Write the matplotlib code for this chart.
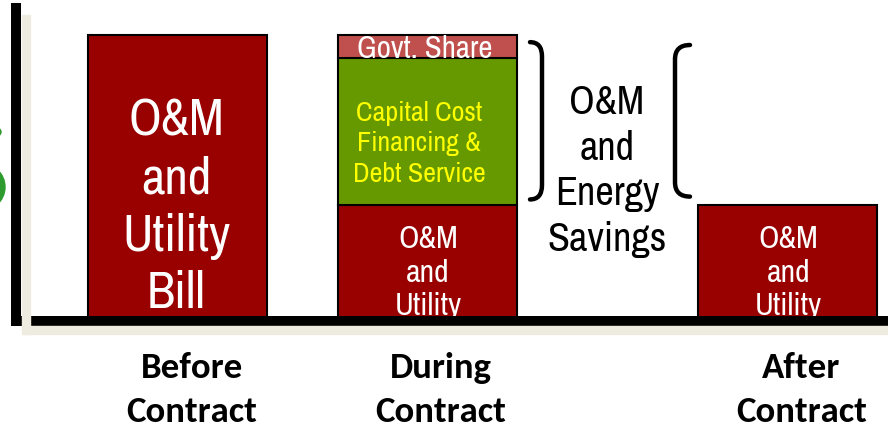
import matplotlib
matplotlib.use("Agg")
import matplotlib.pyplot as plt
from matplotlib.patches import Rectangle, Ellipse, PathPatch
from matplotlib.path import Path

# ---------------- data ----------------
categories = ["Before\nContract", "During\nContract", "After\nContract"]
om_utility = [100.0, 40.6, 40.6]          # O&M and utility portion
capital_cost = [0.0, 51.4, 0.0]           # capital cost financing & debt service
govt_share = [0.0, 8.0, 0.0]              # government share
bar_labels_om = ["O&M\nand\nUtility\nBill", "O&M\nand\nUtility", "O&M\nand\nUtility"]
capital_label = "Capital Cost\nFinancing &\nDebt Service"
govt_label = "Govt. Share"
savings_label = "O&M\nand\nEnergy\nSavings"

# ---------------- layout ----------------
W, H = 888, 428
x_pos = [161.5, 411, 771.5]     # bar centres (axis units ~ px from spine)
bar_w = 179
label_dx = 14                   # category labels slightly right of bars
narrow = ["Archivo Narrow", "DejaVu Sans"]
label_font = ["Carlito", "DejaVu Sans"]

fig = plt.figure(figsize=(W / 100, H / 100), dpi=100)
fig.patch.set_facecolor("white")

def fx(px):
    return px / W

def fy(py):
    return 1 - py / H

ax_l, ax_r, ax_b, ax_t = 16, 888, 321, 8
ax = fig.add_axes([fx(ax_l), fy(ax_b), fx(ax_r) - fx(ax_l), fy(ax_t) - fy(ax_b)])
ax.set_xlim(0, ax_r - ax_l)
ymax = 100 * (ax_b - ax_t) / (ax_b - 35)
ax.set_ylim(0, ymax)
ax.set_facecolor("none")

# shadows of axes (beige)
beige = "#EEEBE0"
fig.patches.append(Rectangle((fx(22), fy(334)), fx(30) - fx(22), fy(15) - fy(334),
                             transform=fig.transFigure, color=beige, zorder=0))
fig.patches.append(Rectangle((fx(23), fy(334)), 1 - fx(23), fy(326) - fy(334),
                             transform=fig.transFigure, color=beige, zorder=0))

# green artefact at the left edge
fig.patches.append(Ellipse((fx(-22), fy(187)), fx(54), fy(0) - fy(50),
                           transform=fig.transFigure, color="#2E9B2E", zorder=0))
fig.patches.append(Ellipse((fx(-6), fy(132)), fx(14), fy(0) - fy(10),
                           transform=fig.transFigure, color="#2E9B2E", zorder=0))

dark_red = "#990000"
green = "#669900"
govt_col = "#C0504D"

bottoms2 = [a + b for a, b in zip(om_utility, capital_cost)]
ax.bar(x_pos, om_utility, width=bar_w, color=dark_red, edgecolor="black", linewidth=1.5, zorder=2)
ax.bar(x_pos, capital_cost, bottom=om_utility, width=bar_w, color=green,
       edgecolor="black", linewidth=1.5, zorder=2)
ax.bar(x_pos, govt_share, bottom=bottoms2, width=bar_w, color=govt_col,
       edgecolor="black", linewidth=1.5, zorder=2)

for p in ax.patches:
    if p.get_height() == 0:
        p.set_visible(False)

# texts in bars
ax.text(x_pos[0] - 1, om_utility[0] / 2 - 10.3, bar_labels_om[0], ha="center", va="center",
        color="white", fontsize=37, family=narrow, linespacing=1.28, zorder=3)
for i in (1, 2):
    ax.text(x_pos[i] + 1, om_utility[i] - 7.0, bar_labels_om[i], ha="center", va="top",
            color="white", fontsize=23, family=narrow, linespacing=1.25, zorder=3, clip_on=True)
ax.text(x_pos[1] - 8, om_utility[1] + capital_cost[1] / 2 - 4.4, capital_label, ha="center",
        va="center", color="#FFFF00", fontsize=20.2, family=narrow, linespacing=1.27, zorder=3)
ax.text(x_pos[1] - 2, bottoms2[1] + govt_share[1] / 2 - 1, govt_label, ha="center",
        va="center", color="white", fontsize=22.3, family=narrow, zorder=3)

# savings text
ax.text(591, 52.5, savings_label, ha="center", va="center", color="black", fontsize=29,
        family=narrow, linespacing=1.286, zorder=3)

# braces
def brace(x_edge, x_tip, y_top, y_bot, r):
    verts = [(x_edge, y_top), (x_tip, y_top), (x_tip, y_top - r),
             (x_tip, y_bot + r), (x_tip, y_bot), (x_edge, y_bot)]
    codes = [Path.MOVETO, Path.CURVE3, Path.CURVE3, Path.LINETO, Path.CURVE3, Path.CURVE3]
    return PathPatch(Path(verts, codes), fill=False, lw=3.2, edgecolor="black",
                     capstyle="round", zorder=3)

ax.add_patch(brace(514, 526, 97.5, 42.5, 5))
ax.add_patch(brace(674, 659, 96.5, 43.5, 5))

# spines
for s in ("top", "right"):
    ax.spines[s].set_visible(False)
for s in ("left", "bottom"):
    ax.spines[s].set_linewidth(7.2)
    ax.spines[s].set_color("black")
    ax.spines[s].set_zorder(5)
ax.set_xticks([])
ax.set_yticks([])

# category labels
for i, c in enumerate(categories):
    fig.text(fx(ax_l + x_pos[i] + label_dx), fy(390), c, ha="center", va="center",
             fontsize=26.5, fontweight="bold", family=label_font, linespacing=1.44, color="black")

fig.savefig("out.png", dpi=100, facecolor="white")
